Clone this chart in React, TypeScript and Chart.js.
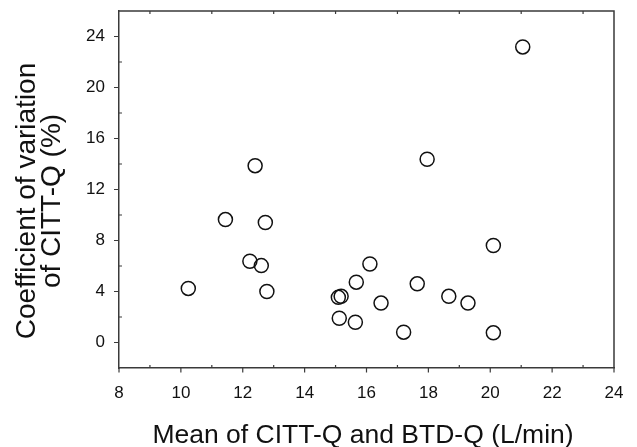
import React, { useEffect, useRef } from "react";
import { Chart, registerables } from "chart.js";

Chart.register(...registerables);

// Data
const meanFlow: number[] = [10.24, 11.44, 12.23, 12.4, 12.6, 12.73, 12.78, 15.09, 15.12, 15.18, 15.64, 15.67, 16.11, 16.47, 17.2, 17.64, 17.96, 18.66, 19.28, 20.1, 20.1, 21.05];
const cvCitt: number[] = [4.24, 9.64, 6.37, 13.87, 6.03, 9.41, 4.0, 3.54, 1.9, 3.62, 1.59, 4.73, 6.16, 3.09, 0.81, 4.6, 14.37, 3.62, 3.09, 7.61, 0.76, 23.18];

const xTicks: number[] = [8, 10, 12, 14, 16, 18, 20, 22, 24];
const xMinorTicks: number[] = [9, 11, 13, 15, 17, 19, 21, 23];
const yTicks: number[] = [0, 4, 8, 12, 16, 20, 24];
const yMinorTicks: number[] = [2, 6, 10, 14, 18, 22];

const xTitle = "Mean of CITT-Q and BTD-Q (L/min)";
const yTitleLines: string[] = ["Coefficient of variation", "of CITT-Q (%)"];

const FONT = '"Liberation Sans", Arial, sans-serif';
const AXIS_COLOR = "#3a3a3a";
const TEXT_COLOR = "#111111";

const decorPlugin = {
  id: "decor",
  afterDraw(chart: any) {
    const { ctx, chartArea: a, scales } = chart;
    const xs = scales.x;
    const ys = scales.y;
    ctx.save();
    ctx.strokeStyle = AXIS_COLOR;
    ctx.lineWidth = 1.5;
    ctx.beginPath();
    ctx.moveTo(a.left, a.top);
    ctx.lineTo(a.right, a.top);
    ctx.lineTo(a.right, a.bottom);
    ctx.stroke();

    ctx.lineWidth = 1.2;
    ctx.beginPath();
    for (const v of xTicks) {
      const p = xs.getPixelForValue(v);
      ctx.moveTo(p, a.bottom);
      ctx.lineTo(p, a.bottom + 4.5);
    }
    for (const v of xMinorTicks) {
      const p = xs.getPixelForValue(v);
      ctx.moveTo(p, a.bottom);
      ctx.lineTo(p, a.bottom - 3);
      ctx.moveTo(p, a.top);
      ctx.lineTo(p, a.top + 3);
    }
    for (const v of yTicks) {
      const p = ys.getPixelForValue(v);
      ctx.moveTo(a.left, p);
      ctx.lineTo(a.left - 5, p);
    }
    for (const v of yMinorTicks) {
      const p = ys.getPixelForValue(v);
      ctx.moveTo(a.left, p);
      ctx.lineTo(a.left + 3, p);
    }
    ctx.stroke();

    // axis titles
    ctx.fillStyle = TEXT_COLOR;
    ctx.textAlign = "center";
    ctx.textBaseline = "alphabetic";
    ctx.font = `26.5px ${FONT}`;
    ctx.fillText(xTitle, 363, 443);

    ctx.save();
    ctx.font = `28px ${FONT}`;
    ctx.translate(0, 201);
    ctx.rotate(-Math.PI / 2);
    ctx.fillText(yTitleLines[0], 0, 35);
    ctx.fillText(yTitleLines[1], 0, 59.5);
    ctx.restore();

    ctx.restore();
  },
};

export default function App() {
  const canvasRef = useRef<HTMLCanvasElement | null>(null);

  useEffect(() => {
    document.body.style.margin = "0";
    const canvas = canvasRef.current;
    if (!canvas) return;
    const chart = new Chart(canvas, {
      type: "scatter",
      data: {
        datasets: [
          {
            data: meanFlow.map((x, i) => ({ x, y: cvCitt[i] })),
            pointStyle: "circle",
            pointRadius: 7,
            pointHoverRadius: 7,
            backgroundColor: "rgba(0,0,0,0)",
            borderColor: "#111111",
            borderWidth: 1.5,
          },
        ],
      },
      options: {
        responsive: false,
        animation: false,
        devicePixelRatio: 1,
        layout: { padding: { top: 11, right: 23, left: 0, bottom: 0 } },
        plugins: {
          legend: { display: false },
          tooltip: { enabled: false },
        },
        scales: {
          x: {
            type: "linear",
            min: 8,
            max: 24,
            afterBuildTicks: (axis: any) => {
              axis.ticks = xTicks.map((v) => ({ value: v }));
            },
            afterFit: (axis: any) => {
              axis.height = 79;
              axis.paddingLeft = 0;
              axis.paddingRight = 0;
            },
            grid: { display: false, drawTicks: false },
            border: { display: true, color: AXIS_COLOR, width: 1.5 },
            ticks: {
              padding: 15,
              color: TEXT_COLOR,
              font: { family: FONT, size: 17 },
              maxRotation: 0,
              autoSkip: false,
            },
          },
          y: {
            type: "linear",
            min: -2,
            max: 26,
            afterBuildTicks: (axis: any) => {
              axis.ticks = yTicks.map((v) => ({ value: v }));
            },
            afterFit: (axis: any) => {
              axis.width = 119;
              axis.paddingTop = 0;
              axis.paddingBottom = 0;
            },
            grid: { display: false, drawTicks: false },
            border: { display: true, color: AXIS_COLOR, width: 1.5 },
            ticks: {
              padding: 14,
              color: TEXT_COLOR,
              font: { family: FONT, size: 17 },
              autoSkip: false,
            },
          },
        },
      },
      plugins: [decorPlugin],
    });
    return () => chart.destroy();
  }, []);

  return (
    <div style={{ position: "absolute", left: 0, top: 0, width: 637, height: 447, background: "#fff" }}>
      <canvas ref={canvasRef} width={637} height={447} />
    </div>
  );
}
